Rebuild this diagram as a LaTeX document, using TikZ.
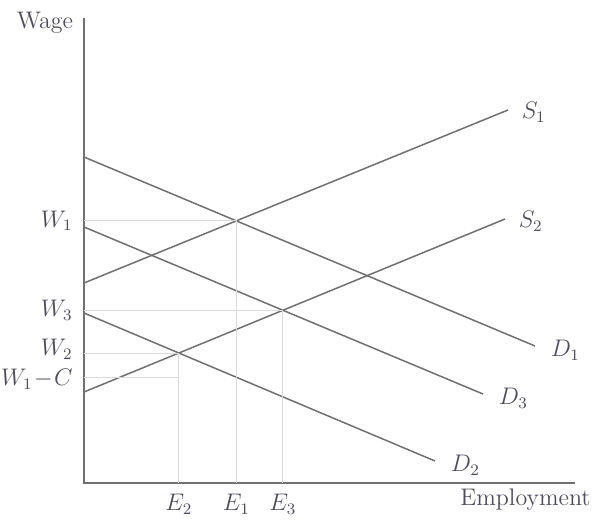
\documentclass[tikz,border=0pt]{standalone}
\usepackage{amsmath}
\usetikzlibrary{intersections}
\definecolor{curvegray}{HTML}{707070}
\definecolor{labelgray}{HTML}{4D4D5C}
\begin{document}
\begin{tikzpicture}[x=0.5pt,y=-0.5pt,
    curve/.style={curvegray,line width=0.75pt},
    guide/.style={black!14,line width=0.5pt},
    lbl/.style={labelgray,font=\fontsize{12}{14}\selectfont,inner sep=1.5pt},
    mlbl/.style={lbl,font=\fontsize{11.5}{13}\selectfont}]
  \useasboundingbox (0,0) rectangle (596,521);

  % axes
  \coordinate (O) at (84,483);
  \coordinate (top) at (84,18);
  \coordinate (right) at (575,483);
  \draw[curvegray,line width=1pt] (top) -- (O) -- (right);
  \node[lbl] (wage) at (45,23) {Wage};
  \node[lbl,anchor=east] (empl) at (594,500) {Employment};

  % demand and supply curves
  \draw[curve,name path=D1] (84,157) -- (535,346) node[mlbl,anchor=west,xshift=6pt,yshift=-2pt] (d1) {$D_1$};
  \draw[curve,name path=D3] (84,227) -- (483,394) node[mlbl,anchor=west,xshift=6pt,yshift=-2pt] (d3) {$D_3$};
  \draw[curve,name path=D2] (84,313) -- (435,461) node[mlbl,anchor=west,xshift=6pt,yshift=-2pt] (d2) {$D_2$};
  \draw[curve,name path=S1] (84,283) -- (508,110) node[mlbl,anchor=west,xshift=5pt,yshift=-1pt] (s1) {$S_1$};
  \draw[curve,name path=S2] (84,392) -- (505,219) node[mlbl,anchor=west,xshift=5pt,yshift=-1pt] (s2) {$S_2$};

  % equilibria
  \path[name intersections={of=D1 and S1,by=X1}];
  \path[name intersections={of=D3 and S2,by=X3}];
  \path[name intersections={of=D2 and S2,by=X2}];
  \coordinate (WC) at (84,377);

  % guide lines
  \draw[guide] (O |- X1) -- (X1) -- (X1 |- O);
  \draw[guide] (O |- X3) -- (X3) -- (X3 |- O);
  \draw[guide] (O |- X2) -- (X2) -- (X2 |- O);
  \draw[guide] (WC) -- (WC -| X2);

  % wage labels
  \node[mlbl,anchor=east,xshift=-4pt] (w1) at (O |- X1) {$W_1$};
  \node[mlbl,anchor=east,xshift=-4pt] (w3) at (O |- X3) {$W_3$};
  \node[mlbl,anchor=east,xshift=-4pt,yshift=2pt] (w2) at (O |- X2) {$W_2$};
  \node[mlbl,anchor=east,xshift=-4pt,yshift=-1pt] (wc) at (WC) {$W_1\!-\!C$};

  % employment labels
  \node[mlbl,below=4pt] (e2) at (X2 |- O) {$E_2$};
  \node[mlbl,below=4pt] (e1) at (X1 |- O) {$E_1$};
  \node[mlbl,below=4pt] (e3) at (X3 |- O) {$E_3$};
\end{tikzpicture}
\end{document}
